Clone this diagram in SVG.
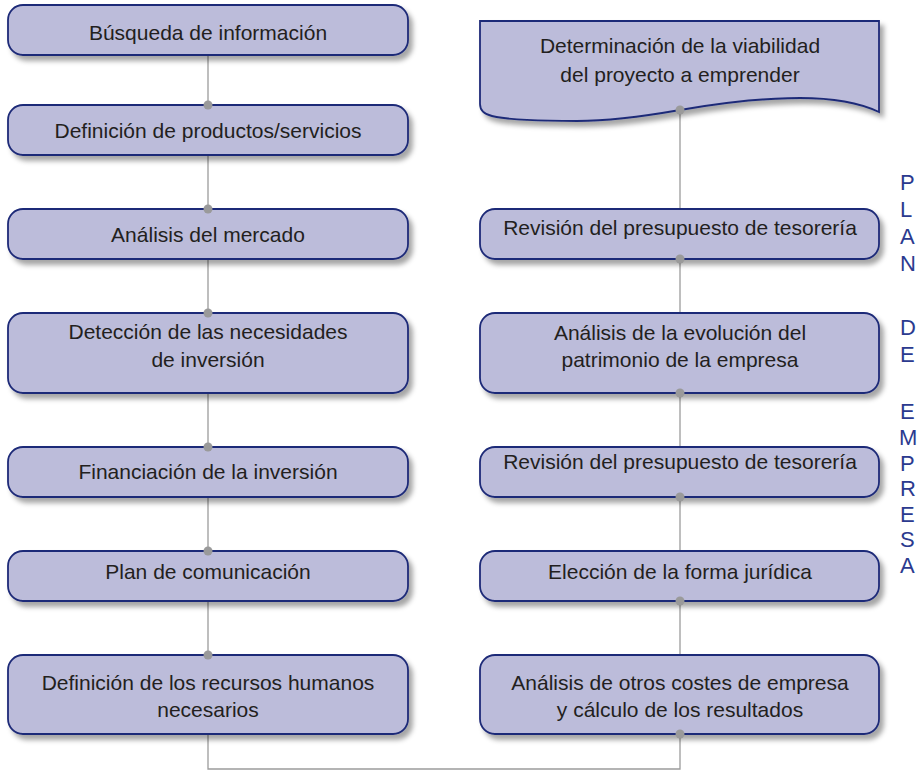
<svg xmlns="http://www.w3.org/2000/svg" width="922" height="771" viewBox="0 0 922 771">
  <defs>
    <filter id="sh" x="-10%" y="-20%" width="125%" height="160%">
      <feDropShadow dx="4" dy="5" stdDeviation="2.5" flood-color="#000" flood-opacity="0.35"/>
    </filter>
    <style>
      .box { fill: #bcbcda; stroke: #1f2b78; stroke-width: 1.8; filter: url(#sh); }
      .t { font-family: "Liberation Sans", Arial, sans-serif; font-size: 21px; fill: #231f20; text-anchor: middle; }
      .conn { stroke: #9c9c9c; stroke-width: 1.3; fill: none; }
      .dot { fill: #9a9a9a; }
      .v { font-family: "Liberation Sans", Arial, sans-serif; font-size: 22px; fill: #2b3a8f; }
    </style>
  </defs>
  <rect width="922" height="771" fill="#ffffff"/>

  <g id="connectors">
    <path class="conn" d="M208,55 V105 M208,155 V209 M208,259 V313 M208,393 V447 M208,497 V551 M208,601 V655 M208,734 V769 H680 V734"/>
    <path class="conn" d="M680,110 V209 M680,259 V313 M680,393 V447 M680,497 V551 M680,601 V655"/>
  </g>

  <g id="n1"><rect class="box" x="8" y="5" width="400" height="50" rx="15"/><text class="t" x="208" y="40">Búsqueda de información</text></g>
  <g id="n2"><rect class="box" x="8" y="105" width="400" height="50" rx="15"/><text class="t" x="208" y="138">Definición de productos/servicios</text></g>
  <g id="n3"><rect class="box" x="8" y="209" width="400" height="50" rx="15"/><text class="t" x="208" y="242">Análisis del mercado</text></g>
  <g id="n4"><rect class="box" x="8" y="313" width="400" height="80" rx="15"/><text class="t" x="208" y="339">Detección de las necesidades</text><text class="t" x="208" y="367">de inversión</text></g>
  <g id="n5"><rect class="box" x="8" y="447" width="400" height="50" rx="15"/><text class="t" x="208" y="479">Financiación de la inversión</text></g>
  <g id="n6"><rect class="box" x="8" y="551" width="400" height="50" rx="15"/><text class="t" x="208" y="579">Plan de comunicación</text></g>
  <g id="n7"><rect class="box" x="8" y="655" width="400" height="79" rx="15"/><text class="t" x="208" y="690">Definición de los recursos humanos</text><text class="t" x="208" y="717">necesarios</text></g>

  <g id="r0"><path class="box" d="M480,21 H879 V112 C860,103 835,98 800,98 C760,98 720,103 680,110 C640,117 610,121 577,121 C540,121 505,119 492,116 C483,114 480,110 480,104 Z"/><text class="t" x="680" y="53">Determinación de la viabilidad</text><text class="t" x="680" y="82">del proyecto a emprender</text></g>
  <g id="r1"><rect class="box" x="480" y="209" width="399" height="50" rx="15"/><text class="t" x="680" y="235">Revisión del presupuesto de tesorería</text></g>
  <g id="r2"><rect class="box" x="480" y="313" width="399" height="80" rx="15"/><text class="t" x="680" y="340">Análisis de la evolución del</text><text class="t" x="680" y="367">patrimonio de la empresa</text></g>
  <g id="r3"><rect class="box" x="480" y="447" width="399" height="50" rx="15"/><text class="t" x="680" y="469">Revisión del presupuesto de tesorería</text></g>
  <g id="r4"><rect class="box" x="480" y="551" width="399" height="50" rx="15"/><text class="t" x="680" y="579">Elección de la forma jurídica</text></g>
  <g id="r5"><rect class="box" x="480" y="655" width="399" height="79" rx="15"/><text class="t" x="680" y="690">Análisis de otros costes de empresa</text><text class="t" x="680" y="717">y cálculo de los resultados</text></g>

  <g id="dots">
    <circle class="dot" cx="208" cy="105" r="4.5"/>
    <circle class="dot" cx="208" cy="209" r="4.5"/>
    <circle class="dot" cx="208" cy="313" r="4.5"/>
    <circle class="dot" cx="208" cy="447" r="4.5"/>
    <circle class="dot" cx="208" cy="551" r="4.5"/>
    <circle class="dot" cx="208" cy="655" r="4.5"/>
    <circle class="dot" cx="680" cy="110" r="4.5"/>
    <circle class="dot" cx="680" cy="259" r="4.5"/>
    <circle class="dot" cx="680" cy="393" r="4.5"/>
    <circle class="dot" cx="680" cy="497" r="4.5"/>
    <circle class="dot" cx="680" cy="601" r="4.5"/>
    <circle class="dot" cx="680" cy="734" r="4.5"/>
  </g>

  <g id="side-label">
    <text class="v" x="900" y="190">P</text>
    <text class="v" x="900" y="217">L</text>
    <text class="v" x="900" y="244">A</text>
    <text class="v" x="900" y="271">N</text>
    <text class="v" x="900" y="335">D</text>
    <text class="v" x="900" y="362">E</text>
    <text class="v" x="900" y="419">E</text>
    <text class="v" x="899" y="445">M</text>
    <text class="v" x="900" y="471">P</text>
    <text class="v" x="900" y="496">R</text>
    <text class="v" x="900" y="522">E</text>
    <text class="v" x="900" y="547">S</text>
    <text class="v" x="900" y="573">A</text>
  </g>
</svg>
